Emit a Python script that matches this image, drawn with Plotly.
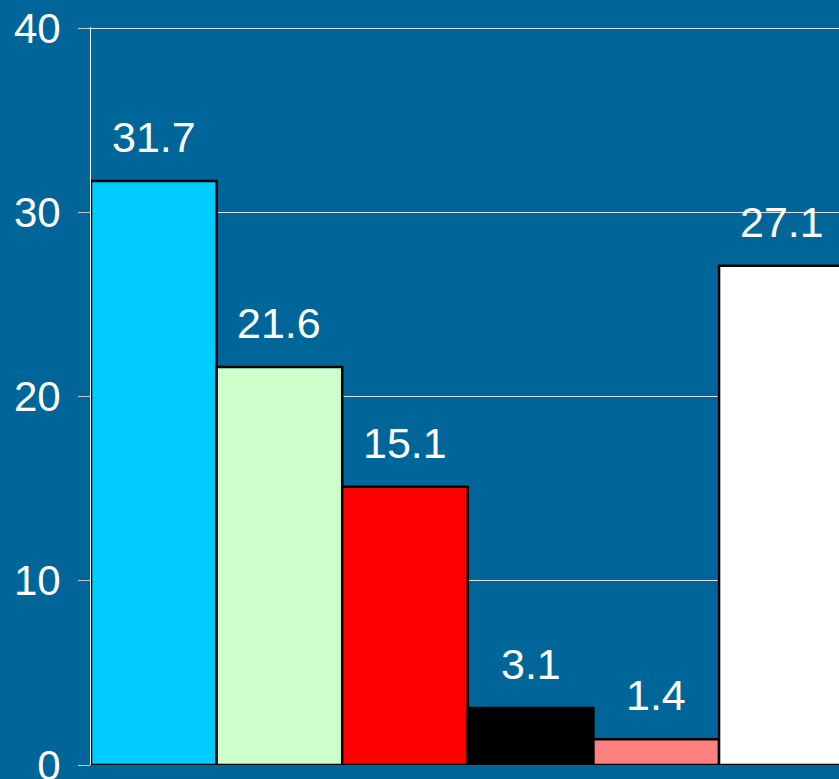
import plotly.graph_objects as go

categories = ["A", "B", "C", "D", "E", "F"]
values = [31.7, 21.6, 15.1, 3.1, 1.4, 27.1]
colors = ["#00CCFF", "#CCFFCC", "#FF0000", "#000000", "#FF8080", "#FFFFFF"]
y_ticks = [0, 10, 20, 30, 40]
labels = [f"{v:.1f}" for v in values]

BG = "#006699"

fig = go.Figure()
fig.add_trace(go.Bar(
    x=list(range(len(categories))),
    y=values,
    marker=dict(color=colors, line=dict(color="#000000", width=2.5)),
    width=1.0,
    hoverinfo="skip",
))

for i, (v, t) in enumerate(zip(values, labels)):
    fig.add_annotation(
        x=i, y=v, text=t, showarrow=False, yanchor="bottom",
        yshift=18, font=dict(family="Liberation Sans, Arial, sans-serif", size=43, color="white"),
    )

fig.update_layout(
    width=839, height=779,
    margin=dict(l=91, r=0, t=27, b=14, autoexpand=False),
    paper_bgcolor=BG, plot_bgcolor=BG,
    showlegend=False, bargap=0,
    font=dict(family="Liberation Sans, Arial, sans-serif", color="white"),
)
fig.update_xaxes(
    range=[-0.5, 5.455], showticklabels=False, showgrid=False, zeroline=False,
    showline=False, fixedrange=True, automargin=False,
)
fig.update_yaxes(
    range=[0, 40.06], tickvals=y_ticks, ticktext=[str(t) for t in y_ticks],
    showgrid=True, gridcolor="#E0E0E0", gridwidth=1,
    zeroline=False, showline=True, linecolor="#FFFFFF", linewidth=1,
    ticks="outside", ticklen=12, tickcolor="#C8C8C8", tickwidth=1,
    tickfont=dict(size=42, color="white"), ticklabelstandoff=9,
    ticklabeloverflow="allow", fixedrange=True, automargin=False,
)

fig.write_html(
    "out.html",
    config={"displayModeBar": False, "staticPlot": True},
    post_script="document.body.style.margin='0';document.body.style.padding='0';document.body.style.overflow='hidden';",
)
